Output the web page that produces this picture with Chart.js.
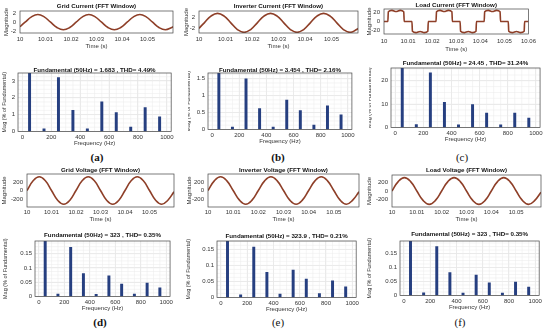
<!DOCTYPE html>
<html>
<head>
<meta charset="utf-8">
<script src="https://cdn.jsdelivr.net/npm/chart.js@4.4.1/dist/chart.umd.min.js"></script>
<style>
html, body { margin: 0; padding: 0; background: #fff; }
#wrap { position: relative; width: 550px; height: 332px; overflow: hidden; }
canvas { position: absolute; }
.lbl { position: absolute; font-family: "Liberation Serif", "DejaVu Serif", serif; font-size: 11px; transform: translate(-50%, -50%); color: #111; white-space: nowrap; }
</style>
</head>
<body>
<div id="wrap"></div>
<script>
// ---- axes ticks
const timeTicks = [10, 10.01, 10.02, 10.03, 10.04, 10.05];
const timeTicksLoad = [10, 10.01, 10.02, 10.03, 10.04, 10.05, 10.06];
const freqTicks = [0, 200, 400, 600, 800, 1000];

// ---- time waveforms (s, value)
const tCurrent = [10, 10.002, 10.0045, 10.007, 10.0095, 10.012, 10.0145, 10.017, 10.0195,
  10.022, 10.0245, 10.027, 10.0295, 10.032, 10.0345, 10.037, 10.0395,
  10.042, 10.0445, 10.047, 10.0495, 10.052, 10.0545, 10.057, 10.0595, 10.06];
const gridCurrent = [-1.0, 0, 1.2, 1.72, 1.2, 0, -1.17, -1.66, -1.17,
  0, 1.2, 1.72, 1.2, 0, -1.17, -1.66, -1.17,
  0, 1.2, 1.72, 1.2, 0, -1.17, -1.66, -1.17, -0.98];
const inverterCurrent = [-2.0, 0, 2.44, 3.45, 2.44, 0, -2.44, -3.45, -2.44,
  0, 2.44, 3.45, 2.44, 0, -2.44, -3.45, -2.44,
  0, 2.44, 3.45, 2.44, 0, -2.44, -3.45, -2.44, -2.03];

const tLoad = [10, 10.0016, 10.0018, 10.0033, 10.005, 10.0067, 10.0082, 10.0084,
  10.0116, 10.0118, 10.0133, 10.015, 10.0167, 10.0182, 10.0184,
  10.0216, 10.0218, 10.0233, 10.025, 10.0267, 10.0282, 10.0284,
  10.0316, 10.0318, 10.0333, 10.035, 10.0367, 10.0382, 10.0384,
  10.0416, 10.0418, 10.0433, 10.045, 10.0467, 10.0482, 10.0484,
  10.0516, 10.0518, 10.0533, 10.055, 10.0567, 10.0582, 10.0584, 10.06];
const loadCurrent = [0, 0, 21, 24, 21.5, 24, 21, 0,
  0, -21, -24, -21.5, -24, -21, 0,
  0, 21, 24, 21.5, 24, 21, 0,
  0, -21, -24, -21.5, -24, -21, 0,
  0, 21, 24, 21.5, 24, 21, 0,
  0, -21, -24, -21.5, -24, -21, 0, 0];

const tVoltage = [10, 10.0025, 10.005, 10.0075, 10.01, 10.0125, 10.015, 10.0175,
  10.02, 10.0225, 10.025, 10.0275, 10.03, 10.0325, 10.035, 10.0375,
  10.04, 10.0425, 10.045, 10.0475, 10.05, 10.0525, 10.055, 10.0575, 10.06];
const gridVoltage = [0, 229, 325, 229, 0, -229, -325, -229,
  0, 229, 325, 229, 0, -229, -325, -229,
  0, 229, 325, 229, 0, -229, -325, -229, -30];
const inverterVoltage = [0, 228, 324, 228, 0, -228, -324, -228,
  0, 228, 324, 228, 0, -228, -324, -228,
  0, 228, 324, 228, 0, -228, -324, -228, -30];
const loadVoltage = [0, 229, 325, 229, 0, -229, -325, -229,
  0, 229, 325, 229, 0, -229, -325, -229,
  0, 229, 325, 229, 0, -229, -325, -229, -30];

// ---- FFT spectra (% of fundamental)
const harmonicsHz = [50, 150, 250, 350, 450, 550, 650, 750, 850, 950];
const fftGridCurrent = [100, 0.15, 3.2, 1.25, 0.15, 1.75, 1.12, 0.25, 1.42, 0.87];
const fftInverterCurrent = [100, 0.07, 1.5, 0.62, 0.07, 0.87, 0.56, 0.13, 0.7, 0.43];
const fftLoadCurrent = [100, 1.2, 23.4, 10.8, 1.1, 9.8, 6.1, 1.1, 6.2, 4.0];
const fftGridVoltage = [100, 0.008, 0.173, 0.08, 0.007, 0.072, 0.043, 0.008, 0.047, 0.03];
const fftInverterVoltage = [100, 0.008, 0.157, 0.078, 0.01, 0.085, 0.057, 0.012, 0.052, 0.033];
const fftLoadVoltage = [100, 0.009, 0.175, 0.082, 0.008, 0.073, 0.045, 0.008, 0.048, 0.03];

const FONT = '"Liberation Sans", Arial, sans-serif';
const wrap = document.getElementById('wrap');

// box + title + minor grid
const framePlugin = {
  id: 'frame',
  beforeDatasetsDraw(chart, args, o) {
    if (!o.minor) return;
    const { ctx, chartArea: a, scales: { x, y } } = chart;
    ctx.save();
    ctx.strokeStyle = '#ebebeb';
    ctx.lineWidth = 0.5;
    for (let v = 0; v <= x.max; v += o.minor[0]) {
      const px = x.getPixelForValue(v);
      if (px <= a.left || px >= a.right) continue;
      ctx.beginPath(); ctx.moveTo(px, a.top); ctx.lineTo(px, a.bottom); ctx.stroke();
    }
    for (let v = 0; v <= y.max; v += o.minor[1]) {
      const py = y.getPixelForValue(v);
      if (py <= a.top || py >= a.bottom) continue;
      ctx.beginPath(); ctx.moveTo(a.left, py); ctx.lineTo(a.right, py); ctx.stroke();
    }
    ctx.restore();
  },
  afterDraw(chart, args, o) {
    const { ctx, chartArea: a } = chart;
    ctx.save();
    ctx.strokeStyle = '#444';
    ctx.lineWidth = 0.7;
    ctx.strokeRect(a.left, a.top, a.right - a.left, a.bottom - a.top);
    ctx.font = 'bold 6.2px ' + FONT;
    ctx.fillStyle = '#111';
    ctx.textAlign = 'center';
    ctx.textBaseline = 'middle';
    ctx.fillText(o.title, (a.left + a.right) / 2, a.top - o.titleDy);
    ctx.restore();
  }
};

function panel(p) {
  const [l, t, r, b] = p.rect;
  const padTop = p.padTop, padR = 3;
  const left = l - p.yW, top = t - padTop;
  const width = Math.round(r - left + padR), height = Math.round(b + p.xH - top);
  const cv = document.createElement('canvas');
  cv.style.left = left + 'px';
  cv.style.top = top + 'px';
  cv.width = width;
  cv.height = height;
  wrap.appendChild(cv);

  const isFFT = p.kind === 'fft';
  const dataset = isFFT ? {
    data: harmonicsHz.map((f, i) => ({ x: f, y: p.values[i] })),
    backgroundColor: '#263f80',
    barThickness: 2.3,
    borderWidth: 0
  } : {
    data: p.times.map((tt, i) => ({ x: tt, y: p.values[i] })),
    borderColor: '#8e3f28',
    borderWidth: 1.6,
    pointRadius: 0,
    fill: false,
    tension: 0.45,
    cubicInterpolationMode: p.monotone ? 'monotone' : 'default'
  };

  new Chart(cv, {
    type: isFFT ? 'bar' : 'line',
    data: { datasets: [dataset] },
    plugins: [framePlugin],
    options: {
      responsive: false,
      animation: false,
      layout: { padding: { top: padTop, right: padR, left: 0, bottom: 0 } },
      plugins: {
        legend: { display: false },
        tooltip: { enabled: false },
        frame: { title: p.title, titleDy: t - p.titleY, minor: isFFT ? p.minor : null }
      },
      scales: {
        x: {
          type: 'linear',
          min: p.xMin, max: p.xMax,
          offset: false,
          afterBuildTicks: s => { s.ticks = p.xTicks.map(v => ({ value: v })); },
          afterFit: s => { s.height = p.xH; },
          grid: { display: isFFT, color: '#dcdcdc', lineWidth: 0.6, drawTicks: false, offset: false },
          border: { display: false },
          ticks: {
            font: { size: 6, family: FONT }, color: '#333', padding: p.xPad,
            maxRotation: 0, autoSkip: false, callback: v => String(v)
          },
          title: { display: true, text: isFFT ? 'Frequency (Hz)' : 'Time (s)',
            font: { size: 6, family: FONT }, color: '#333', padding: 0 }
        },
        y: {
          min: p.yMin, max: p.yMax,
          afterBuildTicks: s => { s.ticks = p.yTicks.map(v => ({ value: v })); },
          afterFit: s => { s.width = p.yW; },
          grid: { display: isFFT, color: '#dcdcdc', lineWidth: 0.6, drawTicks: false },
          border: { display: false },
          ticks: { font: { size: 6, family: FONT }, color: '#333', padding: p.yPad, callback: v => String(v) },
          title: { display: true, text: isFFT ? 'Mag (% of Fundamental)' : 'Magnitude',
            font: { size: isFFT ? 5.5 : 6, family: FONT }, color: '#333',
            padding: { top: p.yTitleX - left - 3.3, bottom: 0 } }
        }
      }
    }
  });
}

function caption(text, x, y, bold) {
  const d = document.createElement('div');
  d.className = 'lbl';
  d.textContent = text;
  d.style.left = x + 'px';
  d.style.top = y + 'px';
  d.style.fontWeight = bold ? 'bold' : 'normal';
  wrap.appendChild(d);
}

// ---- row 1: time plots
panel({ kind: 'time', title: 'Grid Current (FFT Window)', rect: [20, 11, 173, 33], titleY: 6,
  padTop: 11, yW: 20, xH: 17, xPad: 3, yPad: 4, yTitleX: 6,
  xMin: 10, xMax: 10.06, xTicks: timeTicks, yMin: -2.4, yMax: 2.5, yTicks: [-2, 0, 2],
  times: tCurrent, values: gridCurrent });
panel({ kind: 'time', title: 'Inverter Current (FFT Window)', rect: [199, 11, 358, 33], titleY: 6,
  padTop: 11, yW: 17, xH: 17, xPad: 3, yPad: 4, yTitleX: 186,
  xMin: 10, xMax: 10.06, xTicks: timeTicks, yMin: -3.7, yMax: 4.3, yTicks: [-2, 0, 2, 4],
  times: tCurrent, values: inverterCurrent });
panel({ kind: 'time', title: 'Load Current (FFT Window)', rect: [384, 9, 537, 34], titleY: 5,
  padTop: 9, yW: 18, xH: 19, xPad: 4, yPad: 4, yTitleX: 369,
  xMin: 10, xMax: 10.06, xTicks: timeTicksLoad, yMin: -27, yMax: 27, yTicks: [-20, 0, 20],
  times: tLoad, values: loadCurrent, monotone: true });

// ---- row 1: spectra
panel({ kind: 'fft', title: 'Fundamental (50Hz) = 1.683 , THD= 4.49%', rect: [18, 73, 173, 131], titleY: 70,
  padTop: 7, yW: 18, xH: 15.6, xPad: 2.4, yPad: 3, yTitleX: 4, minor: [50, 0.25],
  xMin: -30, xMax: 1030, xTicks: freqTicks, yMin: 0, yMax: 3.47, yTicks: [0, 1, 2, 3],
  values: fftGridCurrent });
panel({ kind: 'fft', title: 'Fundamental (50Hz) = 3.454 , THD= 2.16%', rect: [208, 73, 354, 129], titleY: 70,
  padTop: 7, yW: 20, xH: 15.6, xPad: 2.4, yPad: 3, yTitleX: 188.5, minor: [50, 0.125],
  xMin: -30, xMax: 1030, xTicks: freqTicks, yMin: 0, yMax: 1.67, yTicks: [0, 0.5, 1, 1.5],
  values: fftInverterCurrent });
panel({ kind: 'fft', title: 'Fundamental (50Hz) = 24.45 , THD= 31.24%', rect: [391, 68, 542, 127], titleY: 63,
  padTop: 8, yW: 22, xH: 15.6, xPad: 2.4, yPad: 3, yTitleX: 369, minor: [50, 2.5],
  xMin: -30, xMax: 1030, xTicks: freqTicks, yMin: 0, yMax: 25.5, yTicks: [0, 10, 20],
  values: fftLoadCurrent });

// ---- row 2: time plots
panel({ kind: 'time', title: 'Grid Voltage (FFT Window)', rect: [27, 174, 174, 207], titleY: 170,
  padTop: 8, yW: 27, xH: 16, xPad: 2, yPad: 4, yTitleX: 4,
  xMin: 10, xMax: 10.06, xTicks: timeTicks, yMin: -390, yMax: 390, yTicks: [-200, 0, 200],
  times: tVoltage, values: gridVoltage });
panel({ kind: 'time', title: 'Inverter Voltage (FFT Window)', rect: [208, 174, 359, 207], titleY: 170,
  padTop: 8, yW: 24, xH: 16, xPad: 2, yPad: 4, yTitleX: 189,
  xMin: 10, xMax: 10.06, xTicks: timeTicks, yMin: -390, yMax: 390, yTicks: [-200, 0, 200],
  times: tVoltage, values: inverterVoltage });
panel({ kind: 'time', title: 'Load Voltage (FFT Window)', rect: [392, 175, 541, 207], titleY: 170,
  padTop: 8, yW: 25, xH: 16, xPad: 2, yPad: 4, yTitleX: 369,
  xMin: 10, xMax: 10.06, xTicks: timeTicks, yMin: -390, yMax: 390, yTicks: [-200, 0, 200],
  times: tVoltage, values: loadVoltage });

// ---- row 2: spectra
panel({ kind: 'fft', title: 'Fundamental (50Hz) = 323 , THD= 0.35%', rect: [35, 241, 172, 296], titleY: 235,
  padTop: 8, yW: 33, xH: 15.6, xPad: 2, yPad: 3, yTitleX: 5, minor: [50, 0.0125],
  xMin: -30, xMax: 1030, xTicks: freqTicks, yMin: 0, yMax: 0.195, yTicks: [0, 0.05, 0.1, 0.15],
  values: fftGridVoltage });
panel({ kind: 'fft', title: 'Fundamental (50Hz) = 323.9 , THD= 0.21%', rect: [217, 241, 358, 297], titleY: 236,
  padTop: 8, yW: 31, xH: 15.6, xPad: 2, yPad: 3, yTitleX: 188, minor: [50, 0.0125],
  xMin: -30, xMax: 1030, xTicks: freqTicks, yMin: 0, yMax: 0.176, yTicks: [0, 0.05, 0.1, 0.15],
  values: fftInverterVoltage });
panel({ kind: 'fft', title: 'Fundamental (50Hz) = 323 , THD= 0.35%', rect: [400, 241, 541, 295], titleY: 234,
  padTop: 9, yW: 33, xH: 15.6, xPad: 2, yPad: 3, yTitleX: 369, minor: [50, 0.0125],
  xMin: -30, xMax: 1030, xTicks: freqTicks, yMin: 0, yMax: 0.195, yTicks: [0, 0.05, 0.1, 0.15],
  values: fftLoadVoltage });

// ---- sub-figure captions
caption('(a)', 97, 157, true);
caption('(b)', 278, 157, true);
caption('(c)', 462, 157, false);
caption('(d)', 100, 322, true);
caption('(e)', 278, 322, false);
caption('(f)', 460, 322, false);
</script>
</body>
</html>
